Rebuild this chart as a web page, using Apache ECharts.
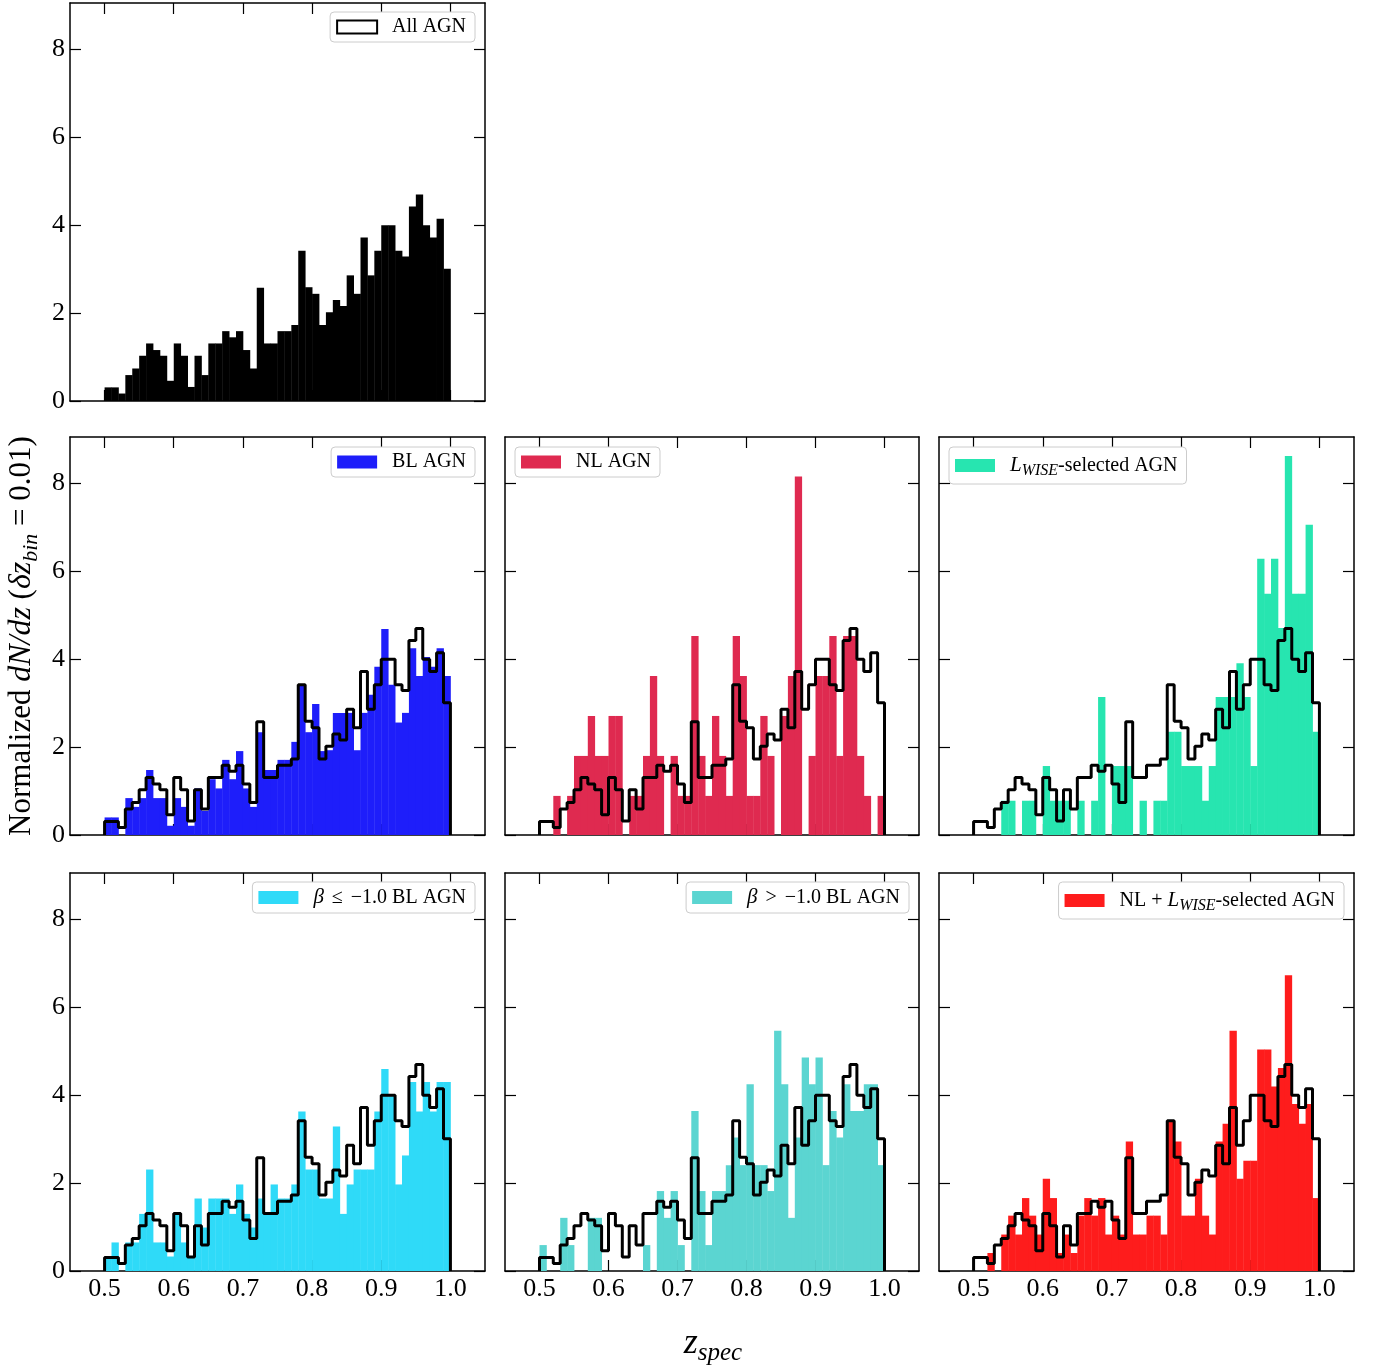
<!DOCTYPE html>
<html>
<head>
<meta charset="utf-8">
<script src="https://cdn.jsdelivr.net/npm/echarts@6/dist/echarts.min.js"></script>
<style>
html, body { margin: 0; padding: 0; background: #fff; }
#chart { width: 1374px; height: 1365px; }
</style>
</head>
<body>
<div id="chart"></div>
<script>
// left edge of each dz = 0.01 bin
var zBins = [0.50,0.51,0.52,0.53,0.54,0.55,0.56,0.57,0.58,0.59,
             0.60,0.61,0.62,0.63,0.64,0.65,0.66,0.67,0.68,0.69,
             0.70,0.71,0.72,0.73,0.74,0.75,0.76,0.77,0.78,0.79,
             0.80,0.81,0.82,0.83,0.84,0.85,0.86,0.87,0.88,0.89,
             0.90,0.91,0.92,0.93,0.94,0.95,0.96,0.97,0.98,0.99];
var BIN = 0.01;

// normalized dN/dz per sample
var allAgn = [0.31,0.31,0.17,0.59,0.74,1.03,1.31,1.16,1.03,0.46,1.31,1.03,0.32,1.03,0.59,1.31,1.31,1.59,1.45,1.59,
              1.16,0.74,2.58,1.31,1.31,1.59,1.59,1.73,3.42,2.59,2.44,1.73,2.02,2.30,2.16,2.86,2.44,3.72,2.86,3.42,
              4.00,4.00,3.42,3.29,4.43,4.70,4.00,3.72,4.15,3.01];
var blAgn = [0.40,0.40,0,0.84,0.64,0.84,1.48,0.84,0.84,0.21,0.84,0.64,0.21,1.06,0.55,1.27,1.06,1.71,1.27,1.91,
             1.06,0.64,2.34,1.48,1.48,1.71,1.71,2.12,3.40,2.34,2.98,1.91,1.93,2.78,2.78,2.78,1.93,2.78,3.19,3.83,
             4.69,3.42,2.56,2.78,4.25,3.62,4.05,3.83,4.25,3.62];
var nlAgn = [0,0,0.89,0,0.89,1.80,1.80,2.71,1.80,1.80,2.71,2.71,0,0.89,0.89,1.80,3.62,1.80,0,1.80,
             0.89,0.89,4.53,1.80,0.89,2.71,1.80,0.89,4.53,3.62,0.89,0.89,2.71,1.80,0,2.71,3.62,8.16,0,1.80,
             3.62,3.62,4.53,1.80,4.53,4.53,1.80,0.89,0,0.89];
var wiseAgn = [0,0,0,0,0.78,0.78,0,0.78,0.78,0,1.57,0.78,0.78,0.78,0,0.78,0,0.78,3.14,0,
               1.57,1.57,1.57,0,0.78,0,0.78,0.78,2.35,2.35,1.57,1.57,1.57,0.78,1.57,3.14,3.14,3.14,3.91,3.14,
               1.57,6.29,5.49,6.29,4.71,8.63,5.49,5.49,7.06,2.35];
var steepBl = [0.33,0.65,0,0.65,0.65,1.30,2.31,0.65,0.65,0.33,1.30,0.65,0.33,1.65,0.99,1.65,1.65,1.65,1.30,1.97,
               1.30,0.99,1.65,1.30,1.97,1.65,1.65,1.97,3.63,2.31,2.31,1.65,1.65,3.29,1.30,1.97,2.31,2.31,2.31,3.63,
               4.60,3.98,1.97,2.63,4.30,3.63,4.30,3.63,4.30,4.30];
var flatBl = [0.59,0,0,1.21,0.59,0,0,1.21,1.21,0,0,0,0,0,0,0.59,0,1.82,1.21,1.82,
              0.59,0,3.64,1.82,0.59,1.82,1.82,2.41,3.04,2.41,4.25,2.41,2.41,1.82,5.47,4.25,1.21,3.04,4.86,4.25,
              4.86,2.41,3.64,3.04,4.25,3.64,3.64,4.25,4.25,2.41];
var nlWiseAgn = [0,0,0.41,0,0.83,1.26,0.83,1.66,1.26,0.83,2.10,1.66,0.41,0.83,0.41,1.26,1.66,1.26,1.66,0.83,
                 1.26,0.83,2.95,0.83,0.83,1.26,1.26,0.83,3.39,2.95,1.26,1.26,2.10,1.26,0.83,2.95,3.35,5.47,2.10,2.51,
                 2.51,5.04,5.04,4.20,4.62,6.73,3.80,3.35,3.80,1.66];

var xTicks = [0.5, 0.6, 0.7, 0.8, 0.9, 1.0];
var yTicks = [0, 2, 4, 6, 8];

var FONT = 'Liberation Serif';

// panel layout
var panels = [
  {name: 'All AGN', data: allAgn, color: '#000000', left: 70, top: 3, width: 415, xLab: false, yLab: true,
   legend: {right: 899, top: 12}, outline: false},
  {name: 'BL AGN', data: blAgn, color: '#1e1efa', left: 70, top: 437, width: 415, xLab: false, yLab: true,
   legend: {right: 899, top: 447}, outline: true},
  {name: 'NL AGN', data: nlAgn, color: '#df2a50', left: 505, top: 437, width: 414, xLab: false, yLab: false,
   legend: {left: 515, top: 447}, outline: true},
  {name: 'WISE AGN', data: wiseAgn, color: '#27e5b0', left: 939, top: 437, width: 415, xLab: false, yLab: false,
   legend: {left: 949, top: 447}, outline: true},
  {name: 'steep BL', data: steepBl, color: '#2fdaf8', left: 70, top: 873, width: 415, xLab: true, yLab: true,
   legend: {right: 899, top: 882}, outline: true},
  {name: 'flat BL', data: flatBl, color: '#5bd5d1', left: 505, top: 873, width: 414, xLab: true, yLab: false,
   legend: {right: 465, top: 882}, outline: true},
  {name: 'NL WISE', data: nlWiseAgn, color: '#fe1c1c', left: 939, top: 873, width: 415, xLab: true, yLab: false,
   legend: {right: 30, top: 882}, outline: true}
];

var legendText = {
  'All AGN': 'All AGN',
  'BL AGN': 'BL AGN',
  'NL AGN': 'NL AGN',
  'WISE AGN': '{i|L}{s|WISE}-selected AGN',
  'steep BL': '{i|β} {m|≤} −1.0 BL AGN',
  'flat BL': '{i|β} {m|>} −1.0 BL AGN',
  'NL WISE': 'NL + {i|L}{s|WISE}-selected AGN'
};

var axisColor = '#000';
var grids = [], xAxes = [], yAxes = [], series = [], legends = [];

// step outline of the full sample
var outline = [[zBins[0], 0]];
for (var i = 0; i < zBins.length; i++) {
    outline.push([zBins[i], allAgn[i]]);
}
outline.push([zBins[zBins.length - 1] + BIN, 0]);

panels.forEach(function (p, k) {
    grids.push({left: p.left, top: p.top, width: p.width, height: 398, outerBoundsMode: 'none'});

    ['bottom', 'top'].forEach(function (pos) {
        xAxes.push({
            gridIndex: k, type: 'value', position: pos, min: 0.45, max: 1.05,
            axisLine: {show: true, onZero: false, lineStyle: {color: axisColor, width: 1.5}},
            axisTick: {show: true, inside: true, length: 11, customValues: xTicks,
                       lineStyle: {color: axisColor, width: 1.2}},
            axisLabel: {show: pos === 'bottom' && p.xLab, customValues: xTicks, margin: 5,
                        formatter: function (v) { return v.toFixed(1); },
                        color: '#000', fontFamily: FONT, fontSize: 26},
            splitLine: {show: false}
        });
    });
    ['left', 'right'].forEach(function (pos) {
        yAxes.push({
            gridIndex: k, type: 'value', position: pos, min: 0, max: 9.06,
            axisLine: {show: true, onZero: false, lineStyle: {color: axisColor, width: 1.5}},
            axisTick: {show: true, inside: true, length: 11, customValues: yTicks,
                       lineStyle: {color: axisColor, width: 1.2}},
            axisLabel: {show: pos === 'left' && p.yLab, customValues: yTicks, margin: 5,
                        color: '#000', fontFamily: FONT, fontSize: 26},
            splitLine: {show: false}
        });
    });

    series.push({
        name: p.name,
        type: 'custom',
        xAxisIndex: 2 * k,
        yAxisIndex: 2 * k,
        itemStyle: {color: p.color},
        data: zBins.map(function (z, i) { return [z, p.data[i]]; }),
        renderItem: function (params, api) {
            var x0 = api.value(0), v = api.value(1);
            if (!v) return null;
            var a = api.coord([x0, v]);
            var b = api.coord([x0 + BIN, 0]);
            return {
                type: 'rect',
                shape: {x: a[0], y: a[1], width: b[0] - a[0] + 0.4, height: b[1] - a[1]},
                style: {fill: p.color}
            };
        },
        z: 2
    });

    if (p.outline) {
        series.push({
            name: 'outline' + k,
            type: 'line',
            xAxisIndex: 2 * k,
            yAxisIndex: 2 * k,
            step: 'end',
            showSymbol: false,
            lineStyle: {color: '#000', width: 3},
            data: outline,
            z: 3
        });
    }

    var lg = {
        data: [p.name],
        selectedMode: false,
        orient: 'horizontal',
        top: p.legend.top,
        icon: 'rect',
        itemWidth: 40,
        itemHeight: 13,
        padding: [5, 9, 5, 6],
        backgroundColor: '#fff',
        borderColor: '#cccccc',
        borderWidth: 1,
        borderRadius: 4,
        formatter: function (name) { return '{g|}' + legendText[name]; },
        textStyle: {
            color: '#000', fontFamily: FONT, fontSize: 20, lineHeight: 20,
            rich: {
                g: {width: 10},
                i: {fontStyle: 'italic', fontFamily: FONT, fontSize: 21, color: '#000'},
                m: {fontFamily: FONT, fontSize: 20, color: '#000', padding: [0, 3, 0, 3]},
                s: {fontStyle: 'italic', fontFamily: FONT, fontSize: 16, color: '#000',
                    verticalAlign: 'bottom', lineHeight: 27}
            }
        }
    };
    if (p.legend.left !== undefined) lg.left = p.legend.left; else lg.right = p.legend.right;
    if (p.name === 'All AGN') {
        lg.data = [{name: 'All AGN', itemStyle: {color: '#fff', borderColor: '#000', borderWidth: 2}}];
    }
    legends.push(lg);
});

var myChart = echarts.init(document.getElementById('chart'));
var option = {
    backgroundColor: '#fff',
    animation: false,
    grid: grids,
    xAxis: xAxes,
    yAxis: yAxes,
    legend: legends,
    series: series,
    graphic: [
        {
            type: 'text',
            x: 22, y: 636,
            rotation: Math.PI / 2,
            style: {
                text: 'Normalized {i|dN/dz} ({i|δz}{s|bin} = 0.01)',
                fontFamily: FONT, fontSize: 31, fill: '#000',
                align: 'center', verticalAlign: 'middle',
                rich: {
                    i: {fontStyle: 'italic', fontFamily: FONT, fontSize: 32, fill: '#000'},
                    s: {fontStyle: 'italic', fontFamily: FONT, fontSize: 22, fill: '#000',
                        verticalAlign: 'bottom', lineHeight: 40}
                }
            }
        },
        {
            type: 'text',
            x: 713, y: 1344,
            style: {
                text: '{i|z}{s|spec}',
                fontFamily: FONT, fontSize: 32, fill: '#000',
                align: 'center', verticalAlign: 'middle',
                rich: {
                    i: {fontStyle: 'italic', fontFamily: FONT, fontSize: 36, fill: '#000'},
                    s: {fontStyle: 'italic', fontFamily: FONT, fontSize: 25, fill: '#000',
                        verticalAlign: 'bottom', lineHeight: 44}
                }
            }
        }
    ]
};
myChart.setOption(option);
</script>
</body>
</html>
